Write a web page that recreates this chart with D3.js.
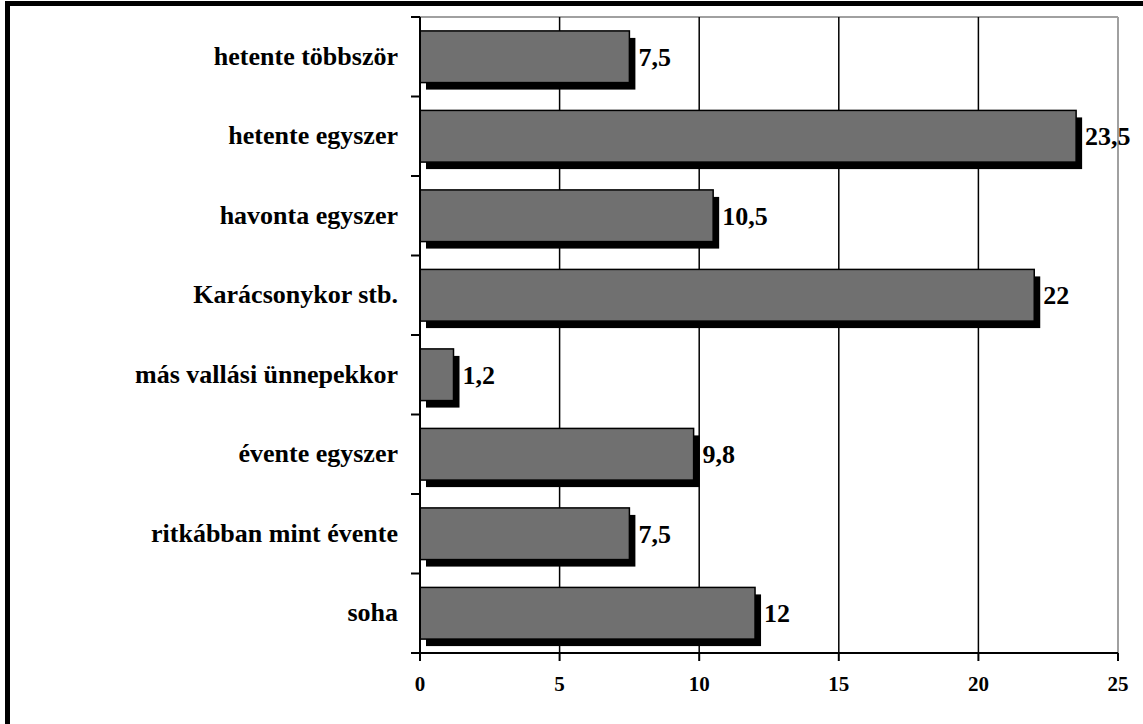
<!DOCTYPE html>
<html>
<head>
<meta charset="utf-8">
<script src="https://cdn.jsdelivr.net/npm/d3@7"></script>
<style>
  body { margin: 0; background: #fff; }
  svg { display: block; }
  text { font-family: "Liberation Serif", "Times New Roman", serif; font-weight: bold; fill: #000; }
</style>
</head>
<body>
<script>
var categories = ['hetente többször', 'hetente egyszer', 'havonta egyszer', 'Karácsonykor stb.',
  'más vallási ünnepekkor', 'évente egyszer', 'ritkábban mint évente', 'soha'];
var values = [7.5, 23.5, 10.5, 22, 1.2, 9.8, 7.5, 12];
var valueLabels = ['7,5', '23,5', '10,5', '22', '1,2', '9,8', '7,5', '12'];
var xTicks = [0, 5, 10, 15, 20, 25];

(function() {
  'use strict';

  var width = 1143, height = 724;
  var plotLeft = 420, plotRight = 1118, plotTop = 17, plotBottom = 653;

  var svg = d3.select('body').append('svg')
    .attr('width', width)
    .attr('height', height);

  // outer frame (only top and left edges visible)
  svg.append('rect').attr('x', 5).attr('y', 1).attr('width', 5).attr('height', height).attr('fill', '#000');
  svg.append('rect').attr('x', 5).attr('y', 1).attr('width', width).attr('height', 5).attr('fill', '#000');

  var x = d3.scaleLinear().domain([0, 25]).range([plotLeft, plotRight]);
  var y = d3.scaleBand().domain(categories).range([plotTop, plotBottom])
    .paddingInner(0.35).paddingOuter(0.175);
  var band = d3.scaleBand().domain(categories).range([plotTop, plotBottom]);

  // plot border (gray) top and right
  svg.append('line').attr('x1', plotLeft).attr('x2', plotRight).attr('y1', plotTop).attr('y2', plotTop)
    .attr('stroke', '#a0a0a0').attr('stroke-width', 2);
  svg.append('line').attr('x1', plotRight).attr('x2', plotRight).attr('y1', plotTop).attr('y2', plotBottom)
    .attr('stroke', '#a0a0a0').attr('stroke-width', 2);

  // gridlines
  svg.append('g').selectAll('line')
    .data(xTicks.filter(function(d) { return d > 0 && d < 25; }))
    .enter().append('line')
    .attr('x1', function(d) { return x(d); })
    .attr('x2', function(d) { return x(d); })
    .attr('y1', plotTop).attr('y2', plotBottom)
    .attr('stroke', '#000').attr('stroke-width', 1.5);

  // shadows
  var dx = 6, dy = 7;
  svg.append('g').selectAll('rect')
    .data(values)
    .enter().append('rect')
    .attr('x', x(0) + dx)
    .attr('y', function(d, i) { return y(categories[i]) + dy; })
    .attr('width', function(d) { return x(d) - x(0); })
    .attr('height', y.bandwidth())
    .attr('fill', '#000');

  // bars
  svg.append('g').selectAll('rect')
    .data(values)
    .enter().append('rect')
    .attr('x', x(0))
    .attr('y', function(d, i) { return y(categories[i]); })
    .attr('width', function(d) { return x(d) - x(0); })
    .attr('height', y.bandwidth())
    .attr('fill', '#707070')
    .attr('stroke', '#000')
    .attr('stroke-width', 1.5);

  // value labels
  svg.append('g').selectAll('text')
    .data(values)
    .enter().append('text')
    .attr('x', function(d) { return x(d) + dx + 3; })
    .attr('y', function(d, i) { return y(categories[i]) + y.bandwidth() / 2 + 9; })
    .style('font-size', '26px')
    .text(function(d, i) { return valueLabels[i]; });

  // y axis
  svg.append('line').attr('x1', plotLeft).attr('x2', plotLeft).attr('y1', plotTop).attr('y2', plotBottom + 8)
    .attr('stroke', '#000').attr('stroke-width', 2);
  var bounds = categories.map(function(c) { return band(c); }).concat([plotBottom]);
  svg.append('g').selectAll('line')
    .data(bounds)
    .enter().append('line')
    .attr('x1', plotLeft - 9).attr('x2', plotLeft)
    .attr('y1', function(d) { return d; }).attr('y2', function(d) { return d; })
    .attr('stroke', '#000').attr('stroke-width', 2);

  svg.append('g').selectAll('text')
    .data(categories)
    .enter().append('text')
    .attr('x', 398)
    .attr('y', function(d) { return band(d) + band.bandwidth() / 2 + 8; })
    .attr('text-anchor', 'end')
    .style('font-size', '26px')
    .text(function(d) { return d; });

  // x axis
  svg.append('line').attr('x1', plotLeft - 9).attr('x2', plotRight).attr('y1', plotBottom).attr('y2', plotBottom)
    .attr('stroke', '#000').attr('stroke-width', 2);
  svg.append('g').selectAll('line')
    .data(xTicks)
    .enter().append('line')
    .attr('x1', function(d) { return x(d); }).attr('x2', function(d) { return x(d); })
    .attr('y1', plotBottom).attr('y2', plotBottom + 8)
    .attr('stroke', '#000').attr('stroke-width', 2);
  svg.append('g').selectAll('text')
    .data(xTicks)
    .enter().append('text')
    .attr('x', function(d) { return x(d); })
    .attr('y', 691)
    .attr('text-anchor', 'middle')
    .style('font-size', '21px')
    .text(function(d) { return d; });
})();
</script>
</body>
</html>
